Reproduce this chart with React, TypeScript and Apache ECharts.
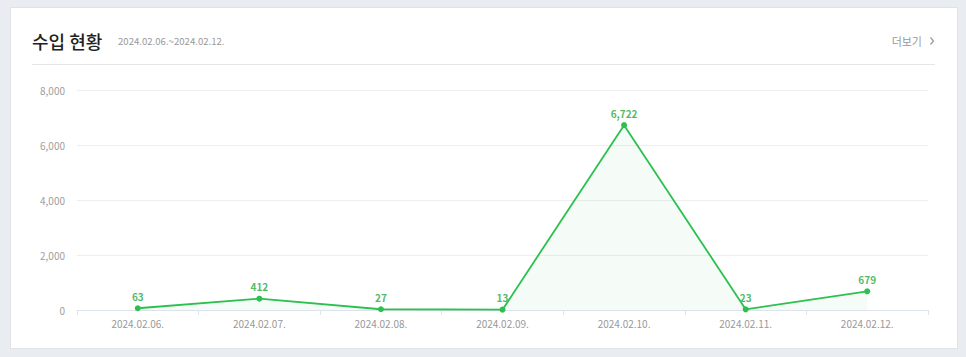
import React, { useEffect, useRef } from "react";
import * as echarts from "echarts";

const categories = ["2024.02.06.", "2024.02.07.", "2024.02.08.", "2024.02.09.", "2024.02.10.", "2024.02.11.", "2024.02.12."];
const incomeValues = [63, 412, 27, 13, 6722, 23, 679];
const yTicks = [0, 2000, 4000, 6000, 8000];

const titleText = "수입 현황";
const periodText = "2024.02.06.~2024.02.12.";
const moreText = "더보기";

export default function App() {
  const ref = useRef<HTMLDivElement>(null);
  useEffect(() => {
    if (!ref.current) return;
    const chart = echarts.init(ref.current, null, { renderer: "svg" });
    const font = "'Noto Sans CJK KR', 'Noto Sans', sans-serif";
    chart.setOption({
      animation: false,
      backgroundColor: "#e9ecf0",
      textStyle: { fontFamily: font },
      graphic: [
        {
          type: "rect",
          z: -10,
          shape: { x: 10.5, y: 7.5, width: 947, height: 341 },
          style: { fill: "#ffffff", stroke: "#dfe3e8", lineWidth: 1 },
        },
        {
          type: "text",
          x: 32,
          y: 41,
          style: { text: titleText, fill: "#222222", font: `500 18px ${font}`, textVerticalAlign: "middle" },
        },
        {
          type: "text",
          x: 118,
          y: 41,
          style: { text: periodText, fill: "#999999", font: `9.6px ${font}`, textVerticalAlign: "middle" },
        },
        {
          type: "text",
          x: 922,
          y: 41,
          style: { text: moreText, fill: "#999999", font: `11px ${font}`, textAlign: "right", textVerticalAlign: "middle" },
        },
        {
          type: "polyline",
          shape: { points: [[930.5, 37.5], [933.5, 41], [930.5, 44.5]] },
          style: { stroke: "#999999", lineWidth: 1.2, fill: "none" },
        },
        {
          type: "line",
          shape: { x1: 32, y1: 64.5, x2: 935, y2: 64.5 },
          style: { stroke: "#e6e6e6", lineWidth: 1 },
        },
      ],
      grid: { left: 77, right: 38, top: 90, bottom: 47, containLabel: false },
      xAxis: {
        type: "category",
        data: categories,
        boundaryGap: true,
        axisLine: { lineStyle: { color: "#dde3ea", width: 1 } },
        axisTick: { show: true, length: 5, lineStyle: { color: "#dde3ea" } },
        axisLabel: { color: "#999999", fontSize: 10, margin: 8, fontFamily: font },
      },
      yAxis: {
        type: "value",
        min: yTicks[0],
        max: yTicks[yTicks.length - 1],
        interval: 2000,
        axisLine: { show: false },
        axisTick: { show: false },
        axisLabel: {
          color: "#a0a0a0",
          fontSize: 10,
          margin: 12,
          fontFamily: font,
          formatter: (v: number) => v.toLocaleString("en-US"),
        },
        splitLine: { lineStyle: { color: "#eeeeee", width: 1 } },
      },
      series: [
        {
          type: "line",
          data: incomeValues,
          symbol: "circle",
          symbolSize: 6,
          lineStyle: { color: "#2cc04f", width: 1.8 },
          itemStyle: { color: "#2cc04f" },
          areaStyle: { color: "rgba(44,192,79,0.07)" },
          label: {
            show: true,
            position: "top",
            distance: 4,
            color: "#55bb6c",
            fontSize: 10,
            fontWeight: "bold",
            fontFamily: font,
            formatter: (p: any) => Number(p.value).toLocaleString("en-US"),
          },
        },
      ],
    });
    return () => chart.dispose();
  }, []);
  return <div ref={ref} style={{ position: "fixed", left: 0, top: 0, width: 966, height: 357 }} />;
}
